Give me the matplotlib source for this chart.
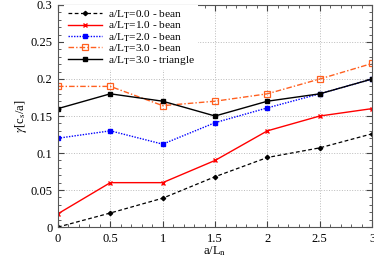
import matplotlib
matplotlib.use('Agg')
import matplotlib.pyplot as plt
from matplotlib.ticker import MultipleLocator

plt.rcParams['font.family'] = ['Liberation Serif', 'DejaVu Serif']
plt.rcParams['mathtext.fontset'] = 'stix'

x = [0, 0.5, 1, 1.5, 2, 2.5, 3]
lt0_bean = [0.0, 0.019, 0.039, 0.068, 0.094, 0.107, 0.126]
lt1_bean = [0.018, 0.06, 0.06, 0.09, 0.13, 0.15, 0.16]
lt2_bean = [0.12, 0.13, 0.112, 0.141, 0.161, 0.18, 0.2]
lt3_bean = [0.19, 0.19, 0.164, 0.17, 0.18, 0.2, 0.221]
lt3_tri = [0.16, 0.18, 0.17, 0.15, 0.17, 0.18, 0.2]

xticks = [0, 0.5, 1, 1.5, 2, 2.5, 3]
xticklabels = ['0', '0.5', '1', '1.5', '2', '2.5', '3']
yticks = [0, 0.05, 0.1, 0.15, 0.2, 0.25, 0.3]
yticklabels = ['0', '0.05', '0.1', '0.15', '0.2', '0.25', '0.3']

fig = plt.figure(figsize=(3.74, 2.61), dpi=100)
ax = fig.add_axes([0.155, 0.13, 0.84, 0.851])

ax.plot(x, lt0_bean, color='black', ls=(0, (3, 2)), lw=0.9, marker='D', ms=2.2,
        label=r'a/L$_\mathrm{T}$=0.0 - bean')
ax.plot(x, lt1_bean, color='red', ls='-', lw=1.0, marker='x', ms=3.5, mew=1.0,
        label=r'a/L$_\mathrm{T}$=1.0 - bean')
ax.plot(x, lt2_bean, color='blue', ls=(0, (1, 1)), lw=1.0, marker='s', ms=3,
        label=r'a/L$_\mathrm{T}$=2.0 - bean')
ax.plot(x, lt3_bean, color='#ff6020', ls=(0, (4, 1.5, 1, 1.5)), lw=1.0, marker='s', ms=4,
        mfc='none', mew=0.9, label=r'a/L$_\mathrm{T}$=3.0 - bean')
ax.plot(x, lt3_tri, color='black', ls='-', lw=1.0, marker='s', ms=3,
        label=r'a/L$_\mathrm{T}$=3.0 - triangle')

ax.set_xlim(0, 3)
ax.set_ylim(0, 0.3)
ax.set_xticks(xticks)
ax.set_xticklabels(xticklabels)
ax.set_yticks(yticks)
ax.set_yticklabels(yticklabels)
ax.xaxis.set_minor_locator(MultipleLocator(0.1))
ax.yaxis.set_minor_locator(MultipleLocator(0.01))
ax.tick_params(which='both', direction='in', top=True, right=True, labelsize=9)
ax.tick_params(which='major', length=4, color='#444444', pad=4)
ax.tick_params(which='minor', length=2, color='#444444')
ax.grid(True, which='major', color='#bbbbbb', ls=':', lw=0.7)
for s in ax.spines.values():
    s.set_color('#555555')

ax.set_xlabel(r'a/L$_\mathrm{n}$', fontsize=9, labelpad=0)
ax.set_ylabel(r'$\gamma$[c$_\mathrm{s}$/a]', fontsize=9, labelpad=1)

leg = ax.legend(loc='upper left', bbox_to_anchor=(0.02, 1.0), fontsize=8.2,
                frameon=True, fancybox=False, edgecolor='none', framealpha=1,
                handlelength=3.0, labelspacing=-0.1, borderaxespad=0.0,
                handletextpad=0.5, borderpad=0.3)

fig.savefig('out.png', dpi=100)
